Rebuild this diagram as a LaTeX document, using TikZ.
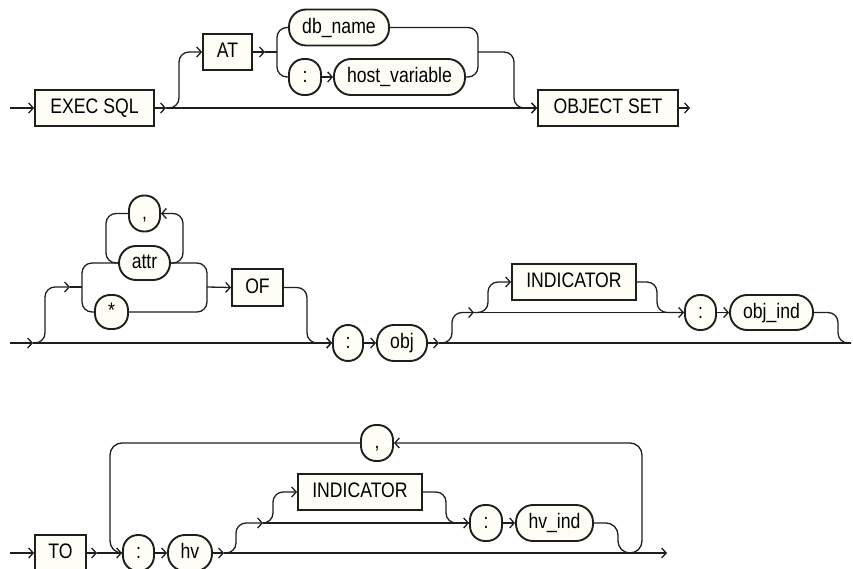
\documentclass[tikz,border=0pt]{standalone}
\usepackage{fontspec}
\setmainfont{Liberation Sans}[FakeStretch=0.84]
\usetikzlibrary{arrows.meta}
\definecolor{cream}{RGB}{254,254,246}
\definecolor{ink}{RGB}{30,30,30}
\begin{document}
\begin{tikzpicture}[x=1pt,y=-1pt,
  box/.style={draw=ink, fill=cream, line width=1.9pt, inner sep=0pt,
    font=\fontsize{21}{24}\selectfont, text height=15pt, text depth=3.4pt},
  kw/.style={box, rectangle},
  nt/.style={box, rectangle, rounded corners=17pt},
  sym/.style={box, rectangle, rounded corners=15pt},
  conn/.style={draw=ink, line width=1.3pt, rounded corners=10pt},
  arr/.style={conn, -{Straight Barb[length=4.5pt,width=10pt]}},
]
\useasboundingbox (0,0) rectangle (853,569);

% ---------- row 1 ----------
\node[kw, minimum width=119pt, minimum height=36pt] (exec) at (94.5,108) {EXEC SQL};
\node[kw, minimum width=49pt, minimum height=36pt] (at) at (227.5,52) {AT};
\node[nt, minimum width=100pt, minimum height=36pt] (dbname) at (339,27.5) {db\_name};
\node[sym, minimum width=32pt, minimum height=36pt] (colA) at (305,77) {:};
\node[nt, minimum width=131pt, minimum height=36pt] (hostvar) at (399.5,77) {host\_variable};
\node[kw, minimum width=140pt, minimum height=36pt] (objset) at (608,108) {OBJECT SET};

\coordinate (s1) at (10,108);
\coordinate (j1) at (166,108);
\coordinate (j2) at (265,52);
\coordinate (m1) at (478,52);
\coordinate (e1) at (690,108);
\draw[arr] (s1) -- (exec.west);
\draw[arr] (exec.east) -- (j1);
\draw[arr] (j1) -- (objset.west);
\draw[arr] (j1) -- (179,108) -- (179,52) -- (at.west);
\draw[arr] (at.east) -- (j2);
\draw[conn] (j2) -- (277,52);
\draw[conn] (dbname.west) -- (277,27.5) -- (277,77) -- (colA.west);
\draw[arr] (colA.east) -- (hostvar.west);
\draw[conn] (dbname.east) -- (478,27.5) -- (478,77) -- (hostvar.east);
\draw[arr] (m1) -- (514,52) -- (514,108) -- (objset.west);
\draw[arr] (objset.east) -- (e1);

% ---------- row 2 ----------
\node[nt, minimum width=51pt, minimum height=34pt] (attr) at (144.5,263) {attr};
\node[sym, minimum width=31pt, minimum height=36pt] (comA) at (144.5,213.5) {,};
\node[sym, minimum width=33pt, minimum height=34pt] (star) at (111.5,312) {*};
\node[kw, minimum width=51pt, minimum height=37pt] (of) at (257.5,287.5) {OF};
\node[sym, minimum width=30pt, minimum height=36pt] (colB) at (348,343) {:};
\node[nt, minimum width=50pt, minimum height=36pt] (obj) at (402,343) {obj};
\node[kw, minimum width=124pt, minimum height=36pt] (indA) at (574,282) {INDICATOR};
\node[sym, minimum width=31pt, minimum height=35pt] (colC) at (700.5,312.5) {:};
\node[nt, minimum width=83pt, minimum height=35pt] (objind) at (771.5,312.5) {obj\_ind};

\coordinate (s2) at (10,343);
\coordinate (j3) at (33,343);
\coordinate (j4) at (70,287);
\coordinate (m2) at (207,287);
\coordinate (j5) at (439,343);
\coordinate (j6) at (474,312.5);
\coordinate (e2) at (851,343);
\draw[arr] (s2) -- (j3);
\draw[arr] (j3) -- (colB.west);
\draw[arr] (j3) -- (45,343) -- (45,287) -- (j4);
\draw[conn] (j4) -- (82,287);
\draw[conn] (attr.west) -- (82,263) -- (82,312) -- (star.west);
\draw[conn] (comA.west) -- (106,213.5) -- (106,263) -- (attr.west);
\draw[arr] (attr.east) -- (183,263) -- (183,213.5) -- (comA.east);
\draw[conn] (attr.east) -- (207,263) -- (207,312) -- (star.east);
\draw[arr] (m2) -- (of.west);
\draw[arr] (of.east) -- (307,287.5) -- (307,343) -- (colB.west);
\draw[arr] (colB.east) -- (obj.west);
\draw[arr] (obj.east) -- (j5);
\draw[conn] (j5) -- (e2);
\draw[arr] (j5) -- (452,343) -- (452,312.5) -- (j6);
\draw[arr] (j6) -- (488,312.5) -- (488,282) -- (indA.west);
\draw[arr] (j6) -- (colC.west);
\draw[conn] (indA.east) -- (657,282) -- (657,312.5) -- (colC.west);
\draw[arr] (colC.east) -- (objind.west);
\draw[conn] (objind.east) -- (838,312.5) -- (838,343) -- (e2);

% ---------- row 3 ----------
\node[kw, minimum width=51pt, minimum height=36pt] (to) at (60.5,553) {TO};
\node[sym, minimum width=31pt, minimum height=36pt] (colD) at (138.5,553) {:};
\node[nt, minimum width=44pt, minimum height=36pt] (hv) at (190,553) {hv};
\node[sym, minimum width=32pt, minimum height=36pt] (comB) at (377,443) {,};
\node[kw, minimum width=124pt, minimum height=36pt] (indB) at (360,492) {INDICATOR};
\node[sym, minimum width=32pt, minimum height=36pt] (colE) at (486,523) {:};
\node[nt, minimum width=77pt, minimum height=36pt] (hvind) at (554.5,523) {hv\_ind};

\coordinate (s3) at (10,553);
\coordinate (j7) at (97,553);
\coordinate (j8) at (224,553);
\coordinate (j9) at (263,523);
\coordinate (u1) at (630,553);
\coordinate (e3) at (667,553);
\draw[arr] (s3) -- (to.west);
\draw[arr] (to.east) -- (j7);
\draw[arr] (j7) -- (colD.west);
\draw[conn, rounded corners=12pt] (comB.west) -- (110,443) -- (110,553) -- (colD.west);
\draw[arr] (colD.east) -- (hv.west);
\draw[arr] (hv.east) -- (j8);
\draw[arr] (j8) -- (e3);
\draw[arr] (j8) -- (236,553) -- (236,523) -- (j9);
\draw[arr] (j9) -- (273,523) -- (273,492) -- (indB.west);
\draw[arr] (j9) -- (colE.west);
\draw[conn] (indB.east) -- (446,492) -- (446,523) -- (colE.west);
\draw[arr] (colE.east) -- (hvind.west);
\draw[conn, rounded corners=12pt] (hvind.east) -- (618,523) -- (618,553) -- (u1);
\draw[arr, rounded corners=12pt] (u1) -- (642,553) -- (642,443) -- (comB.east);
\end{tikzpicture}
\end{document}
